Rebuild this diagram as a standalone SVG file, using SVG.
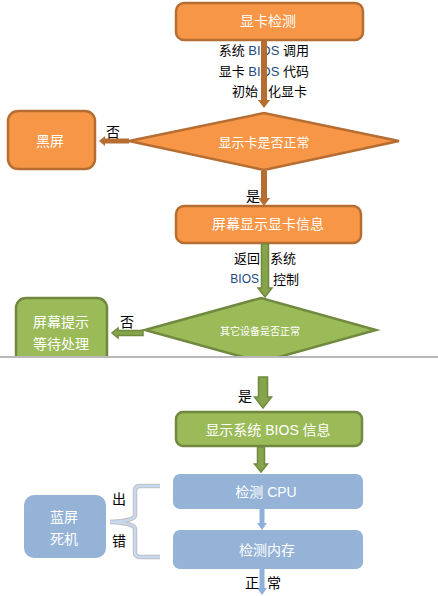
<svg xmlns="http://www.w3.org/2000/svg" width="438" height="596" viewBox="0 0 438 596">
<style>
text{font-family:"Liberation Sans","Noto Sans CJK SC",sans-serif;dominant-baseline:central}
.w{fill:#ffffff;font-size:14px;text-anchor:middle}
.k{fill:#000000;font-size:13px}
.b{fill:#1F497D}
.or{fill:#F79646;stroke:#B66D31;stroke-width:2.5}
.gr{fill:#9BBB59;stroke:#71893F;stroke-width:2.5}
.bl{fill:#95B3D7}
.ao{fill:#B66D31}
.ag{fill:#86A44C;stroke:#71893F;stroke-width:1.5}
.ab{fill:#8EB0DA}
</style>
<defs>
<clipPath id="top"><rect x="0" y="0" width="438" height="356"/></clipPath>
</defs>
<rect width="438" height="596" fill="#ffffff"/>

<g id="n-gpu-check">
<rect class="or" x="176" y="3" width="187" height="37" rx="8"/>
<text class="w" x="268" y="21">显卡检测</text>
</g>
<g id="t-bios-call">
<text class="k" x="309" y="50" text-anchor="end">系统 <tspan class="b">BIOS</tspan> 调用</text>
<text class="k" x="309" y="71" text-anchor="end">显卡 <tspan class="b">BIOS</tspan> 代码</text>
<text class="k" x="258" y="91" text-anchor="end">初始</text>
<text class="k" x="268" y="91">化显卡</text>
</g>
<g id="n-gpu-ok">
<polygon class="or" points="129,141 264,113 399,141 264,170"/>
<text class="w" x="264" y="142" style="font-size:13px">显示卡是否正常</text>
</g>
<g id="n-black">
<rect class="or" x="8" y="111" width="87" height="58" rx="10"/>
<text class="w" x="50" y="141">黑屏</text>
</g>
<g id="n-show-gpu">
<rect class="or" x="176" y="206" width="185" height="37" rx="8"/>
<text class="w" x="268" y="224">屏幕显示显卡信息</text>
</g>
<g id="t-return">
<text class="k" x="260" y="258" text-anchor="end">返回</text>
<text class="k" x="270" y="258">系统</text>
<text class="k b" x="259" y="279" text-anchor="end" style="font-size:12px">BIOS</text>
<text class="k" x="273" y="279">控制</text>
</g>
<g clip-path="url(#top)">
<g id="n-dev-ok">
<polygon class="gr" points="145,330 261,298 376,330 261,362"/>
<text class="w" x="260" y="331" style="font-size:10px">其它设备是否正常</text>
</g>
<g id="n-wait">
<rect class="gr" x="16" y="298" width="91" height="70" rx="10"/>
<text class="w" x="61" y="322">屏幕提示</text>
<text class="w" x="61" y="344">等待处理</text>
</g>
</g>
<line x1="0" y1="357" x2="438" y2="357" stroke="#A0A0A4" stroke-width="1.5"/>

<g id="n-show-bios">
<rect class="gr" x="176" y="412" width="186" height="34" rx="7"/>
<text class="w" x="268" y="430">显示系统 BIOS 信息</text>
</g>
<g id="n-cpu">
<rect class="bl" x="173" y="474" width="190" height="35" rx="7"/>
<text class="w" x="266" y="492">检测 CPU</text>
</g>
<g id="n-mem">
<rect class="bl" x="173" y="530" width="190" height="39" rx="7"/>
<text class="w" x="267" y="550">检测内存</text>
</g>
<g id="n-bsod">
<rect class="bl" x="24" y="495" width="82" height="63" rx="10"/>
<text class="w" x="64" y="517">蓝屏</text>
<text class="w" x="64" y="539">死机</text>
</g>

<g id="connectors">
<polygon class="ao" points="261,41 267,41 267,100 270,100 264,108 258,100 261,100"/>
<polygon class="ao" points="261,171 267,171 267,198 270,198 264,206 258,198 261,198"/>
<polygon class="ao" points="129,138.5 129,143.5 105,143.5 105,146 99,141 105,136 105,138.5"/>
<polygon class="ag" points="261.5,244 268.5,244 268.5,288 272,288 265,297 258,288 261.5,288"/>
<polygon class="ag" points="143,330.5 143,335.5 118,335.5 118,338 112,333 118,328 118,330.5"/>
<polygon class="ag" points="258.5,377 267.5,377 267.5,397 271.5,397 263,408 254.5,397 258.5,397"/>
<polygon class="ag" points="257.5,447 264.5,447 264.5,464 267.5,464 261,472 254.5,464 257.5,464"/>
<polygon class="ab" points="259.5,509 264.5,509 264.5,523 267,523 262,530 257,523 259.5,523"/>
<polygon class="ab" points="259.5,569 264.5,569 264.5,588 267,588 262,595 257,588 259.5,588"/>
<path d="M160,486 H140 Q135,486 135,491 V515 Q135,521 110,522 Q135,523 135,529 V552 Q135,557 140,557 H160" fill="none" stroke="#BFBFBF" stroke-width="4.5"/>
<path d="M160,486 H140 Q135,486 135,491 V515 Q135,521 110,522 Q135,523 135,529 V552 Q135,557 140,557 H160" fill="none" stroke="#C6D9F1" stroke-width="2.5"/>
</g>

<g id="labels">
<text class="k" x="113" y="132" text-anchor="middle" style="font-size:14px">否</text>
<text class="k" x="253" y="196" text-anchor="middle" style="font-size:14px">是</text>
<text class="k" x="127" y="322" text-anchor="middle" style="font-size:14px">否</text>
<text class="k" x="245" y="396" text-anchor="middle" style="font-size:14px">是</text>
<text class="k" x="119" y="499" text-anchor="middle" style="font-size:14px">出</text>
<text class="k" x="119" y="541" text-anchor="middle" style="font-size:14px">错</text>
<text class="k" x="252" y="583" text-anchor="middle" style="font-size:14px">正</text>
<text class="k" x="274" y="583" text-anchor="middle" style="font-size:14px">常</text>
</g>
</svg>
